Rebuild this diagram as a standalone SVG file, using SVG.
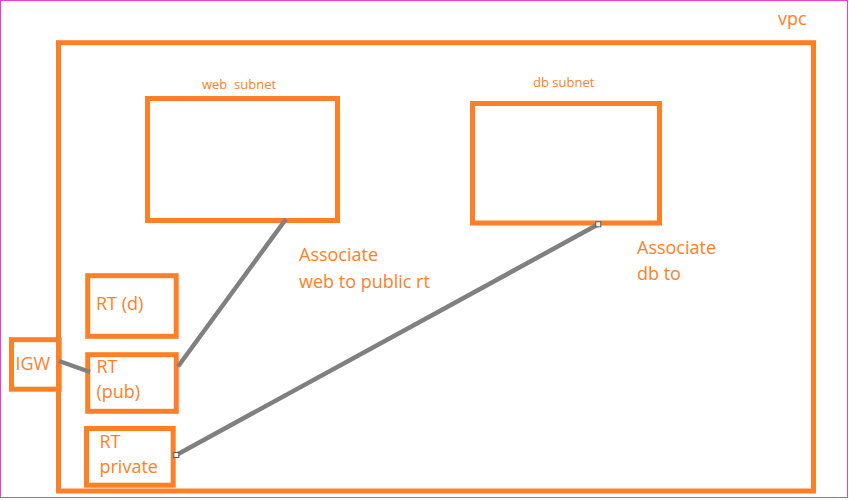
<svg xmlns="http://www.w3.org/2000/svg" width="849" height="500" viewBox="0 0 849 500">
<style>
.box{fill:none;stroke:#FF7F27;stroke-width:5}
.t{font-family:"Segoe UI","Open Sans","Noto Sans",sans-serif;fill:#FF7F27}
.big{font-size:18px}
.small{font-size:13px}
.conn{stroke:#808080;stroke-width:4.5;stroke-linecap:butt;fill:none}
.end{fill:#fff;stroke:#555;stroke-width:1}
</style>
<rect x="0.5" y="0.5" width="847" height="497" fill="#fff" stroke="#F23CCB" stroke-width="1"/>
<g id="vpc">
<rect class="box" x="58.5" y="42.7" width="755" height="448.3"/>
<text class="t big" x="778" y="25">vpc</text>
</g>
<g id="web-subnet">
<rect class="box" x="147.5" y="98.5" width="190" height="122"/>
<text class="t small" x="202" y="89" xml:space="preserve">web  subnet</text>
</g>
<g id="db-subnet">
<rect class="box" x="472.5" y="103.5" width="187" height="119.5"/>
<text class="t small" x="533" y="87">db subnet</text>
</g>
<g id="rt-d">
<rect class="box" x="87.7" y="275.7" width="88.5" height="60.6"/>
<text class="t big" x="96" y="310">RT (d)</text>
</g>
<g id="rt-pub">
<rect class="box" x="87.7" y="354.7" width="88.6" height="56.6"/>
<text class="t big" x="96.5" y="373">RT</text>
<text class="t big" x="96.5" y="398">(pub)</text>
</g>
<g id="igw">
<rect class="box" x="11.5" y="339.7" width="47.7" height="49.5"/>
<text class="t big" x="15.5" y="370">IGW</text>
</g>
<g id="rt-private">
<rect class="box" x="86.5" y="428.5" width="86.7" height="56.7"/>
<text class="t big" x="99.5" y="447.5">RT</text>
<text class="t big" x="99.5" y="473">private</text>
</g>
<g id="connectors">
<line class="conn" x1="59" y1="361" x2="90" y2="372"/>
<line class="conn" x1="178" y1="366.5" x2="286" y2="219"/>
<line class="conn" x1="176.3" y1="455" x2="598.3" y2="224.3"/>
<rect class="end" x="173.8" y="452.5" width="5" height="5"/>
<rect class="end" x="595.8" y="221.8" width="5" height="5"/>
</g>
<g id="labels">
<text class="t big" x="299" y="261">Associate</text>
<text class="t big" x="299" y="288">web to public rt</text>
<text class="t big" x="637" y="254">Associate</text>
<text class="t big" x="637" y="280">db to</text>
</g>
</svg>
